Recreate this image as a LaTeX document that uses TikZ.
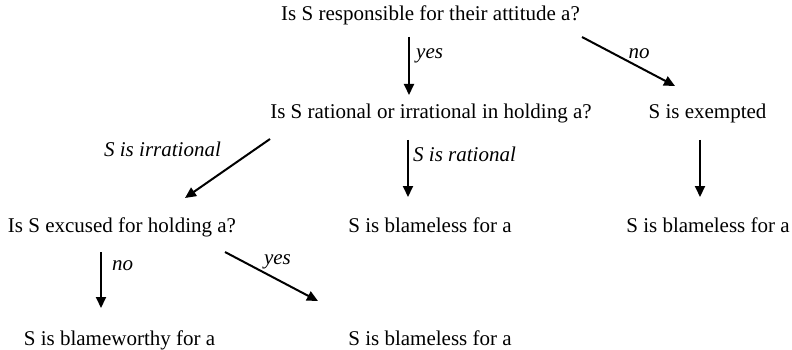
\documentclass[tikz,border=0pt]{standalone}
\usepackage{fontspec}
\setmainfont{Liberation Serif}
\usetikzlibrary{arrows.meta}
\begin{document}
\begin{tikzpicture}[x=1pt,y=-1pt,
  txt/.style={font=\fontsize{21}{25}\selectfont, inner sep=0pt, anchor=base},
  lab/.style={font=\fontsize{21}{25}\selectfont\itshape, inner sep=0pt},
  arr/.style={line width=2pt, -{Triangle[length=11pt,width=10pt]}}]
\useasboundingbox (0,0) rectangle (792,350);
% statements
\node[txt] (q1)  at (430.5,21)  {Is S responsible for their attitude a?};
\node[txt] (q2)  at (431,119)   {Is S rational or irrational in holding a?};
\node[txt] (ex)  at (707.5,119) {S is exempted};
\node[txt] (q3)  at (122,232)   {Is S excused for holding a?};
\node[txt] (bl1) at (430,232)   {S is blameless for a};
\node[txt] (bl2) at (708,232)   {S is blameless for a};
\node[txt] (bw)  at (119.5,345) {S is blameworthy for a};
\node[txt] (bl3) at (430,345)   {S is blameless for a};
% connector end points
\coordinate (a1s) at (409,37);  \coordinate (a1e) at (409,95);
\coordinate (a2s) at (582,37);  \coordinate (a2e) at (675,86);
\coordinate (a3s) at (270,139); \coordinate (a3e) at (185,198);
\coordinate (a4s) at (408,140); \coordinate (a4e) at (408,197);
\coordinate (a5s) at (700,140); \coordinate (a5e) at (700,197);
\coordinate (a6s) at (101,252); \coordinate (a6e) at (101,308);
\coordinate (a7s) at (225,252); \coordinate (a7e) at (318,301);
% connectors
\draw[arr] (a1s) -- (a1e);
\draw[arr] (a2s) -- (a2e);
\draw[arr] (a3s) -- (a3e);
\draw[arr] (a4s) -- (a4e);
\draw[arr] (a5s) -- (a5e);
\draw[arr] (a6s) -- (a6e);
\draw[arr] (a7s) -- (a7e);
% labels
\node[lab, anchor=base west] (l1) at (416,59)  {yes};
\node[lab, anchor=base]      (l2) at (639,59)  {no};
\node[lab, anchor=base]      (l3) at (162.5,157) {S is irrational};
\node[lab, anchor=base west] (l4) at (413,161) {S is rational};
\node[lab, anchor=base west] (l6) at (112,270) {no};
\node[lab, anchor=base]      (l7) at (277.5,264) {yes};
\end{tikzpicture}
\end{document}
